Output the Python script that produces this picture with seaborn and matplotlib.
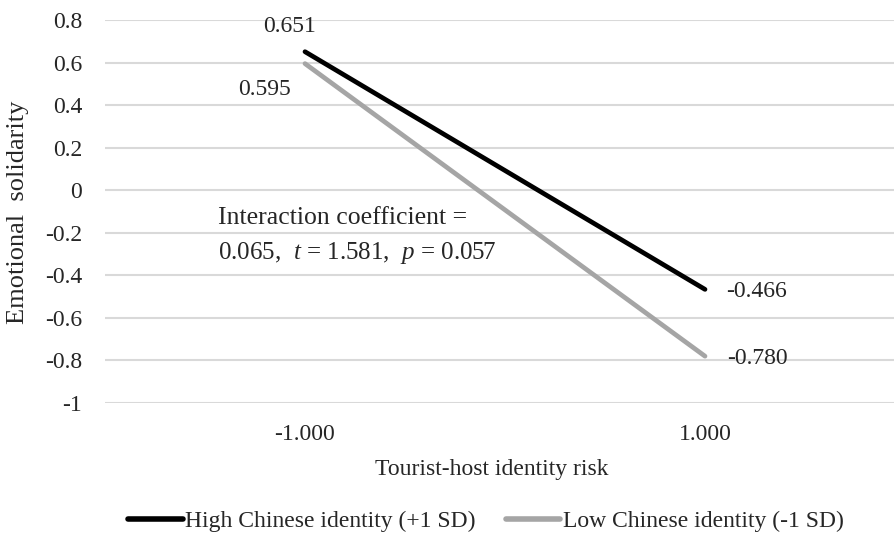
import pandas as pd
import matplotlib.pyplot as plt
import seaborn as sns

# Данные графика
risk_levels = ["-1.000", "1.000"]
high_identity = [0.651, -0.466]
low_identity = [0.595, -0.780]
series_names = ["High Chinese identity (+1 SD)", "Low Chinese identity (-1 SD)"]
y_ticks = [-1, -0.8, -0.6, -0.4, -0.2, 0, 0.2, 0.4, 0.6, 0.8]
y_tick_labels = ["-1", "-0.8", "-0.6", "-0.4", "-0.2", "0", "0.2", "0.4", "0.6", "0.8"]

sns.set_theme(style="whitegrid")
plt.rcParams['font.family'] = ['Liberation Serif', 'DejaVu Serif']
plt.rcParams['mathtext.fontset'] = 'custom'
plt.rcParams['mathtext.it'] = 'Liberation Serif:italic'

data = pd.DataFrame({
    'pos': [0, 1, 0, 1],
    'value': high_identity + low_identity,
    'group': [series_names[0]] * 2 + [series_names[1]] * 2,
})

fig = plt.figure(figsize=(8.95, 5.4), dpi=100)
ax = fig.add_axes([105 / 895, 1 - 403 / 540, 1 - 105 / 895, (403 - 20) / 540])

sns.lineplot(data=data, x='pos', y='value', hue='group',
             palette=['#000000', '#A5A5A5'], linewidth=3.4, ax=ax,
             legend=False, solid_capstyle='round')

ax.set_xlim(-0.5, 1.475)
ax.set_ylim(-1, 0.8)
ax.set_yticks(y_ticks)
ax.set_yticklabels(y_tick_labels, fontsize=17)
ax.set_xticks([0, 1])
ax.set_xticklabels(risk_levels, fontsize=17)
ax.tick_params(axis='y', pad=16.5, length=0)
ax.tick_params(axis='x', pad=15, length=0)
ax.grid(axis='x', visible=False)
ax.grid(axis='y', color='#D9D9D9', linewidth=1.5)
for spine in ax.spines.values():
    spine.set_visible(False)

ax.set_xlabel("Tourist-host identity risk", fontsize=17)
ax.set_ylabel("Emotional  solidarity", fontsize=19)
ax.xaxis.set_label_coords((492 - 105) / 790, -(470 - 403) / 383)
ax.yaxis.set_label_coords(-(105 - 18) / 790, (403 - 212) / 383)
ax.xaxis.label.set_va('center')
ax.yaxis.label.set_va('center')

# Подписи значений (смещения в пунктах)
label_offsets = {
    (0, high_identity[0]): (-10.8, 17.8),
    (0, low_identity[0]): (-28.8, -18.7),
    (1, high_identity[1]): (37.4, -1.4),
    (1, low_identity[1]): (37.4, -1.4),
}
for (px, py), off in label_offsets.items():
    ax.annotate(f"{py:.3f}", (px, py), xytext=off, textcoords='offset points',
                ha='center', va='center', fontsize=17)

fig.text(218 / 895, 1 - 218 / 540, "Interaction coefficient =",
         fontsize=18.5, va='center', ha='left')
fig.text(218 / 895, 1 - 253 / 540,
         r"0.065,  $t$ = 1.581,  $p$ = 0.057",
         fontsize=18, va='center', ha='left')

handles = [plt.Line2D([], [], color=c, linewidth=4) for c in ['#000000', '#A5A5A5']]
fig.legend(handles, series_names, loc='center', bbox_to_anchor=(486 / 895, 1 - 521 / 540),
           ncol=2, frameon=False, fontsize=17, handlelength=2.3,
           handletextpad=0.1, columnspacing=1.3,
           borderpad=0, borderaxespad=0)

plt.savefig('out.png', dpi=100)
plt.close()
